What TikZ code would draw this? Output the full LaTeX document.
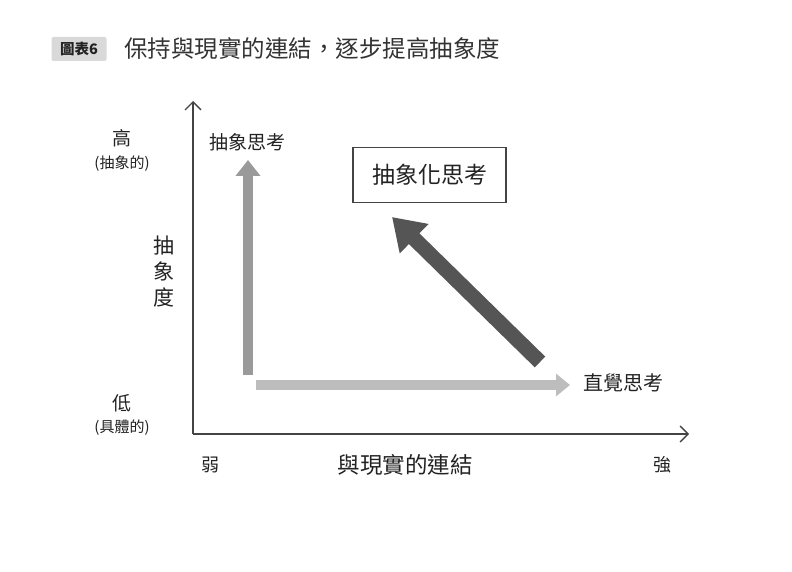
\documentclass[tikz,border=0pt]{standalone}
\usepackage{fontspec}
\setmainfont{Noto Sans CJK TC}
\usetikzlibrary{arrows.meta}
\definecolor{axisc}{HTML}{444444}
\definecolor{txtc}{HTML}{222222}
\definecolor{midgray}{HTML}{9A9A9A}
\definecolor{lightgray}{HTML}{BDBDBD}
\definecolor{darkarrow}{HTML}{555555}
\definecolor{tagfill}{HTML}{D9D9D9}
\newcommand{\fs}[1]{\fontsize{#1bp}{#1bp}\selectfont}
\tikzset{
  lbl/.style={text=txtc, inner sep=0pt, anchor=center},
  axisline/.style={draw=axisc, line width=1.4bp, -{Straight Barb[length=8bp,width=16bp,line width=1.4bp]}},
}
\begin{document}
\begin{tikzpicture}[x=1bp,y=-1bp]
\useasboundingbox (0,0) rectangle (792,572);
% title
\node[fill=tagfill, rounded corners=2bp, minimum width=55bp, minimum height=24bp, inner sep=0pt, text=txtc, font=\fs{14.5}\bfseries] (tag) at (79,49) {圖表6};
\node[lbl, anchor=west, text=black!80, font=\fs{23.5}] (title) at (124,49) {保持與現實的連結，逐步提高抽象度};
% axes
\coordinate (O) at (193,434);
\coordinate (ytop) at (193,101);
\coordinate (xend) at (689,434);
\draw[axisline] (O) -- (ytop);
\draw[axisline] (O) -- (xend);
% y labels
\node[lbl, font=\fs{19}] (hi) at (122,138) {高};
\node[lbl, font=\fs{15}] (hisub) at (122,164) {(抽象的)};
\node[lbl, font=\fs{21}, align=center] (ylab) at (164,272) {抽\\[5bp]象\\[5bp]度};
\node[lbl, font=\fs{19}] (lo) at (122,403) {低};
\node[lbl, font=\fs{15}] (losub) at (122,428) {(具體的)};
% x labels
\node[lbl, font=\fs{18}] (weak) at (210,465) {弱};
\node[lbl, font=\fs{22.5}] (xlab) at (405,465) {與現實的連結};
\node[lbl, font=\fs{18}] (strong) at (662,465) {強};
% concept labels
\node[lbl, font=\fs{19}] (abs) at (247,142) {抽象思考};
\node[lbl, font=\fs{20}] (intu) at (623,383) {直覺思考};
\node[draw=axisc, line width=1.3bp, minimum width=153bp, minimum height=55bp, inner sep=0pt, text=txtc, font=\fs{23}] (absbox) at (429.5,175) {抽象化思考};
% arrows
\coordinate (vstart) at (248,375);
\coordinate (vtip) at (248,160);
\draw[midgray, line width=10bp, -{Triangle[length=16bp,width=24bp]}] (vstart) -- (vtip);
\coordinate (hstart) at (256,385);
\coordinate (htip) at (570,385);
\draw[lightgray, line width=10bp, -{Triangle[length=14bp,width=22bp]}] (hstart) -- (htip);
\coordinate (dstart) at (540,362);
\coordinate (dtip) at (392,217);
\draw[darkarrow, line width=15bp, -{Triangle[length=31bp,width=39bp]}] (dstart) -- (dtip);
\end{tikzpicture}
\end{document}
